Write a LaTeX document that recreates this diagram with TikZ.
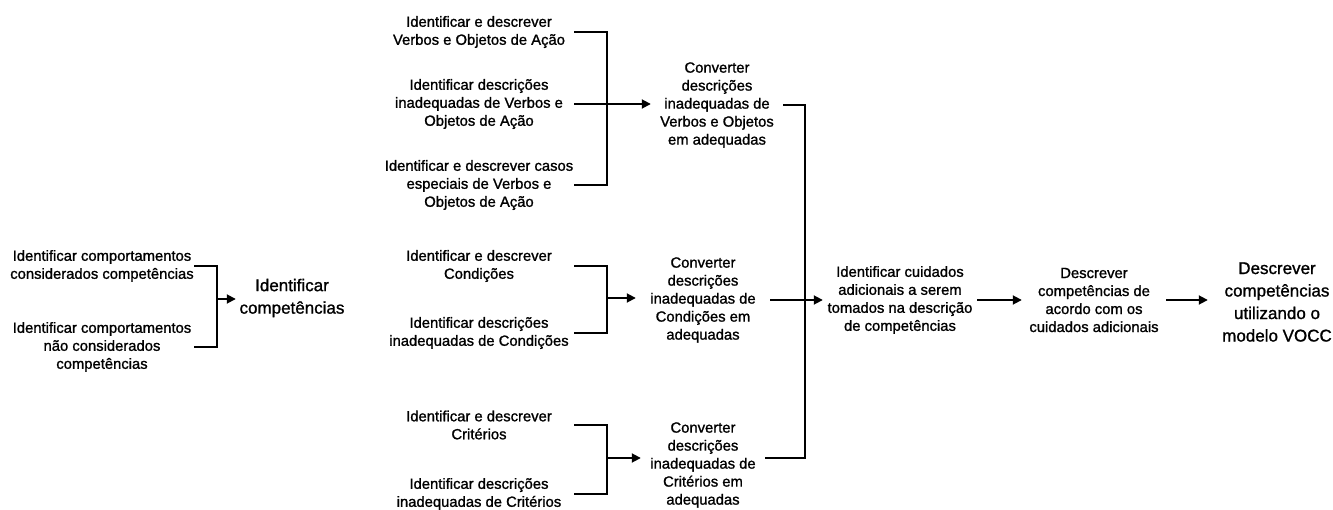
\documentclass[tikz,border=0pt]{standalone}
\usepackage{fontspec}
\setmainfont[FakeBold=1.2]{Liberation Sans}
\usetikzlibrary{arrows.meta, positioning}

\begin{document}
\begin{tikzpicture}[x=1pt, y=-1pt,
    box/.style={inner sep=0pt, align=center, font=\fontsize{14.8}{18}\selectfont},
    bigbox/.style={inner sep=0pt, align=center, font=\fontsize{17}{22.5}\selectfont},
    link/.style={line width=1.8pt},
    arrow/.style={link, -{Triangle[length=9pt, width=9pt]}}
]
\useasboundingbox (0,0) rectangle (1333,510);

% Identificar competencias
\node[box, minimum width=184pt] (cons)  at (102,266) {Identificar comportamentos\\considerados competências};
\node[box, minimum width=184pt] (ncons) at (102,347) {Identificar comportamentos\\não considerados\\competências};
\coordinate (j0) at (217,299);
\node[bigbox, minimum width=112pt] (idcomp) at (292,298) {Identificar\\competências};

% Verbos e Objetos
\node[box, minimum width=190pt] (vo1) at (479,32)  {Identificar e descrever\\Verbos e Objetos de Ação};
\node[box, minimum width=190pt] (vo2) at (479,104) {Identificar descrições\\inadequadas de Verbos e\\Objetos de Ação};
\node[box, minimum width=190pt] (vo3) at (479,185) {Identificar e descrever casos\\especiais de Verbos e\\Objetos de Ação};
\coordinate (j1) at (607,104);
\node[box, minimum width=132pt] (convvo) at (717,105) {Converter\\descrições\\inadequadas de\\Verbos e Objetos\\em adequadas};

% Condicoes
\node[box, minimum width=190pt] (cd1) at (479,266) {Identificar e descrever\\Condições};
\node[box, minimum width=190pt] (cd2) at (479,333) {Identificar descrições\\inadequadas de Condições};
\coordinate (j2) at (607,298);
\node[box, minimum width=134pt] (convcd) at (703,300) {Converter\\descrições\\inadequadas de\\Condições em\\adequadas};

% Criterios
\node[box, minimum width=190pt] (cr1) at (479,425) {Identificar e descrever\\Critérios};
\node[box, minimum width=190pt] (cr2) at (479,494) {Identificar descrições\\inadequadas de Critérios};
\coordinate (j3) at (607,458);
\node[box, minimum width=124pt] (convcr) at (703,465) {Converter\\descrições\\inadequadas de\\Critérios em\\adequadas};

% Cuidados adicionais
\coordinate (j4) at (805,299);
\node[box, minimum width=154pt] (cuid) at (900,300) {Identificar cuidados\\adicionais a serem\\tomados na descrição\\de competências};
\node[box, minimum width=144pt] (desc) at (1094,300) {Descrever\\competências de\\acordo com os\\cuidados adicionais};
\node[bigbox, minimum width=138pt] (vocc) at (1277,302) {Descrever\\competências\\utilizando o\\modelo VOCC};

\draw[link] (cons.east) -| (j0) |- (ncons.east);
\draw[arrow] (j0) -- (j0 -| idcomp.west);
\draw[link] (vo1.east) -| (j1) |- (vo3.east);
\draw[arrow] (vo2.east) -- (vo2.east -| convvo.west);
\draw[link] (cd1.east) -| (j2) |- (cd2.east);
\draw[arrow] (j2) -- (j2 -| convcd.west);
\draw[link] (cr1.east) -| (j3) |- (cr2.east);
\draw[arrow] (j3) -- (j3 -| convcr.west);
\draw[link] (convvo.east) -| (j4) |- (j3 -| convcr.east);
\draw[arrow] (convcd.east) -- (convcd.east -| cuid.west);
\draw[arrow] (cuid.east) -- (cuid.east -| desc.west);
\draw[arrow] (desc.east) -- (desc.east -| vocc.west);
\end{tikzpicture}
\end{document}
